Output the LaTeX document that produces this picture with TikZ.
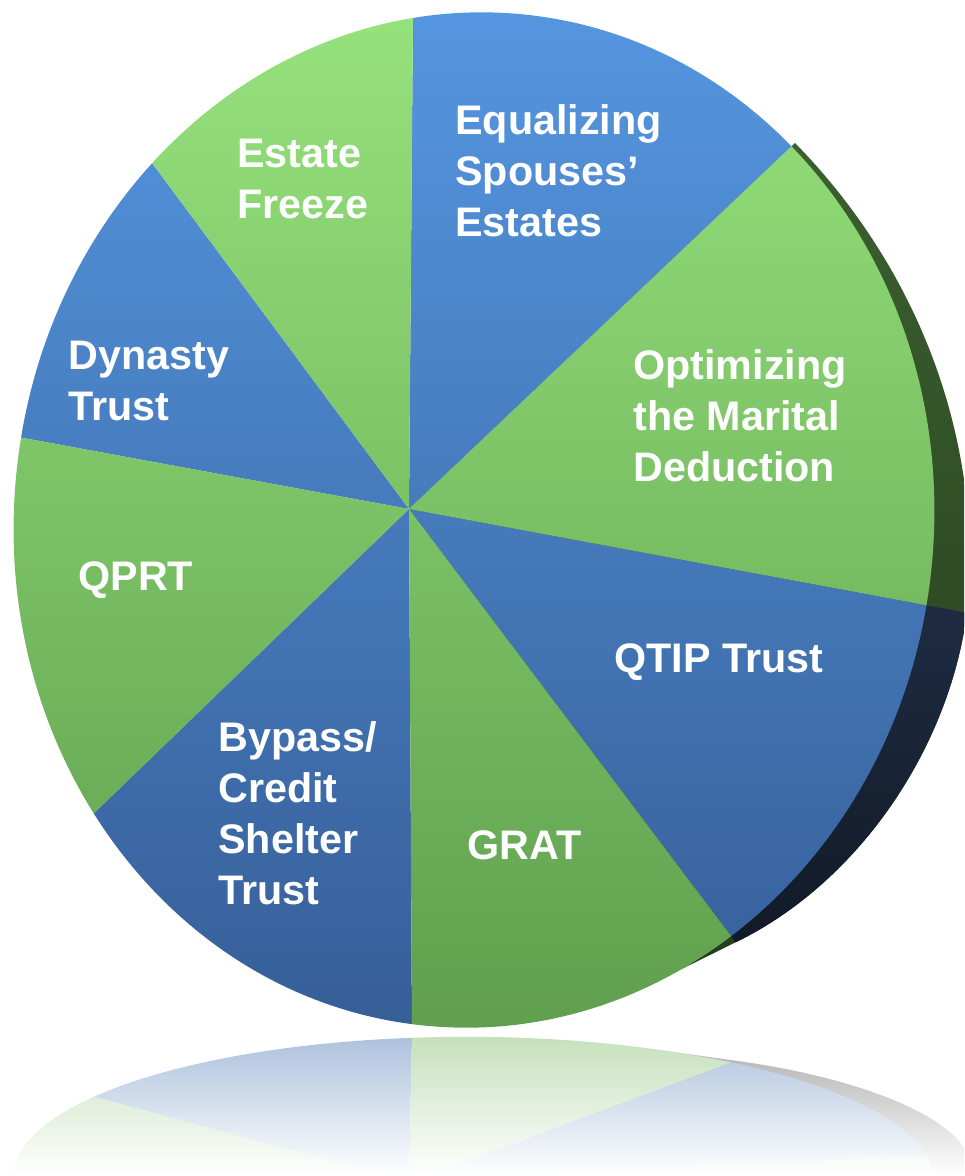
\documentclass[tikz,border=0pt]{standalone}
\usepackage{fontspec}
\setmainfont{Liberation Sans}
\definecolor{blueHi}{HTML}{5596E0}
\definecolor{blueLo}{HTML}{365E97}
\definecolor{greenHi}{HTML}{96E27C}
\definecolor{greenLo}{HTML}{5F9F4E}
\definecolor{rimGreenA}{HTML}{3D6130}
\definecolor{rimGreenB}{HTML}{223A1B}
\definecolor{rimNavyA}{HTML}{1F2D45}
\definecolor{rimNavyB}{HTML}{0F1620}
\definecolor{refBlue}{HTML}{A9BFDB}
\definecolor{refGreen}{HTML}{C3DFB8}
\definecolor{refGray}{HTML}{A8A8A8}
% slice wedges: pie centre (409,509), rays through the slice boundaries extended x3
\newcommand{\blueWedges}{(409,509)--(421,-982)--(1567,-589)--cycle
  (409,509)--(1957,797)--(1366,1778)--cycle
  (409,509)--(418,2072)--(-548,1433)--cycle
  (409,509)--(-764,293)--(-362,-529)--cycle}
\newcommand{\greenWedges}{(409,509)--(1567,-589)--(1957,797)--cycle
  (409,509)--(1366,1778)--(418,2072)--cycle
  (409,509)--(-548,1433)--(-764,293)--cycle
  (409,509)--(-362,-529)--(421,-982)--cycle}
\newcommand{\navyWedge}{(409,509)--(1957,797)--(1366,1778)--cycle}
\newcommand{\rimPath}{(795,143) .. controls (900,250) and (972,400) .. (970,570)
  .. controls (968,720) and (870,880) .. (730,945)
  .. controls (680,970) and (640,990) .. (600,1003) -- (409,509) -- cycle}
\begin{document}
\begin{tikzpicture}[x=0.02cm, y=-0.02cm,
  lbl/.style={text=white, font=\bfseries\fontsize{23.5}{29}\selectfont, align=left, inner sep=0pt, anchor=west},
  facetilt/.style={rotate around={-5:(474,520)}}]
\useasboundingbox (0,0) rectangle (964,1176);
\clip (0,0) rectangle (964,1176);
% ---------- reflection ----------
\begin{scope}[cm={1,0,0,-0.28,(0,-26.496cm)}]
  \begin{scope}
    \clip \rimPath;
    \begin{scope}[reset cm]
      \shade[top color=refGray, bottom color=white] (560,1030) rectangle (964,1176);
    \end{scope}
  \end{scope}
  \begin{scope}
    \clip[facetilt] (474,520) ellipse [x radius=460, y radius=508];
    \begin{scope}
      \clip \blueWedges;
      \begin{scope}[reset cm]
        \shade[top color=refBlue, bottom color=white] (0,1030) rectangle (964,1176);
      \end{scope}
    \end{scope}
    \begin{scope}
      \clip \greenWedges;
      \begin{scope}[reset cm]
        \shade[top color=refGreen, bottom color=white] (0,1030) rectangle (964,1176);
      \end{scope}
    \end{scope}
  \end{scope}
\end{scope}
% ---------- rim ----------
\begin{scope}
  \clip \rimPath;
  \shade[top color=rimGreenA, bottom color=rimGreenB] (400,100) rectangle (980,1030);
  \clip \navyWedge;
  \shade[top color=rimNavyA, bottom color=rimNavyB] (400,560) rectangle (980,1030);
\end{scope}
% ---------- face ----------
\begin{scope}
  \clip[facetilt] (474,520) ellipse [x radius=460, y radius=508];
  \begin{scope}
    \clip \blueWedges;
    \shade[shading angle=-55, top color=blueHi, bottom color=blueLo] (12,10) rectangle (936,1030);
  \end{scope}
  \begin{scope}
    \clip \greenWedges;
    \shade[shading angle=-55, top color=greenHi, bottom color=greenLo] (12,10) rectangle (936,1030);
  \end{scope}
\end{scope}
% ---------- labels ----------
\node[lbl] (estate) at (237,179) {Estate\\Freeze};
\node[lbl] (equal) at (455,171) {Equalizing\\Spouses’\\Estates};
\node[lbl] (dynasty) at (68,381) {Dynasty\\Trust};
\node[lbl] (optim) at (633,416) {Optimizing\\the Marital\\Deduction};
\node[lbl] (qprt) at (78,580) {QPRT};
\node[lbl] (qtip) at (614,662) {QTIP Trust};
\node[lbl] (bypass) at (218,813) {Bypass/\\Credit\\Shelter\\Trust};
\node[lbl] (grat) at (467,845) {GRAT};
\end{tikzpicture}
\end{document}
